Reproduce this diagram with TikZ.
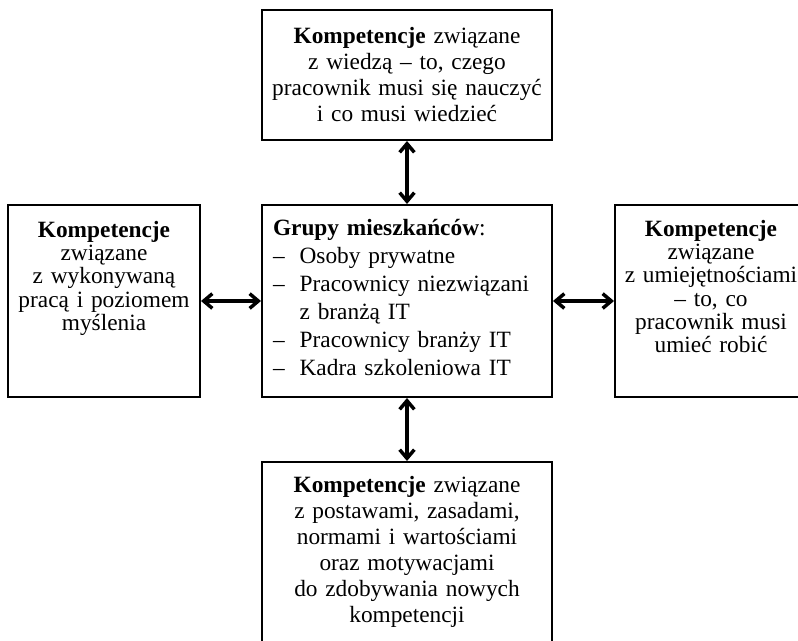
\documentclass[tikz,border=0pt]{standalone}
\usepackage{fontspec}
\setmainfont{Liberation Serif}
\usetikzlibrary{arrows.meta, positioning}

\begin{document}
\begin{tikzpicture}[
        x=0.75pt, y=-0.75pt,
        >={Straight Barb[length=6.5pt, width=11pt]},
        comp/.style={draw, line width=1.5pt, align=center, inner xsep=0pt, inner ysep=0pt,
            font=\fontsize{17.5}{17.5}\selectfont},
        compwide/.style={comp, text width=217.5pt, font=\fontsize{17.5}{19.5}\selectfont},
        compnarrow/.style={comp, text width=144pt},
        groupbox/.style={comp, align=left, text width=201pt, inner xsep=8.25pt,
            font=\fontsize{17.5}{21}\selectfont, text height=22.5pt, text depth=121.5pt},
        link/.style={<->, line width=2.6pt}
    ]
        \path[use as bounding box, clip] (0,0) rectangle (798,640);

        \node[groupbox] (groups) at (407,301) {
            \textbf{Grupy mieszkańców}:\\
            \makebox[20pt][l]{–}Osoby prywatne\\
            \makebox[20pt][l]{–}Pracownicy niezwiązani\\
            \hspace*{20pt}z branżą IT\\
            \makebox[20pt][l]{–}Pracownicy branży IT\\
            \makebox[20pt][l]{–}Kadra szkoleniowa IT
        };

        \node[compwide, text height=24.75pt, text depth=72.75pt, above=47.25pt of groups] (knowledge) {
            \textbf{Kompetencje} związane\\
            z wiedzą – to, czego\\
            pracownik musi się nauczyć\\
            i co musi wiedzieć
        };

        \node[compnarrow, text height=24pt, text depth=120pt, left=45pt of groups] (work) {
            \textbf{Kompetencje}\\
            związane\\
            z wykonywaną\\
            pracą i poziomem\\
            myślenia
        };

        \node[compnarrow, text height=23.25pt, text depth=120.75pt, right=45.75pt of groups] (skills) {
            \textbf{Kompetencje}\\
            związane\\
            z umiejętnościami\\
            – to, co\\
            pracownik musi\\
            umieć robić
        };

        \node[compwide, text height=22.5pt, text depth=123.75pt, below=47.25pt of groups] (attitudes) {
            \textbf{Kompetencje} związane\\
            z postawami, zasadami,\\
            normami i wartościami\\
            oraz motywacjami\\
            do zdobywania nowych\\
            kompetencji
        };

        \draw[link] (groups.north) -- (knowledge.south);
        \draw[link] (groups.west) -- (work.east);
        \draw[link] (groups.east) -- (skills.west);
        \draw[link] (groups.south) -- (attitudes.north);
    \end{tikzpicture}
\end{document}
